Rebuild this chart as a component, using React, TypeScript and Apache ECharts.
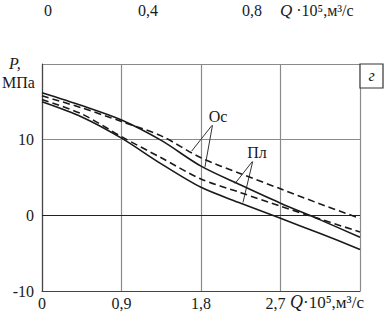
import React, { useEffect, useRef } from "react";
import * as echarts from "echarts";

const Q = [0, 0.45, 0.9, 1.35, 1.8, 2.25, 2.7, 3.15, 3.6];
const osSolid = [16.2, 14.5, 12.6, 9.9, 6.5, 4.0, 1.6, -0.6, -2.9];
const osDashed = [15.8, 14.2, 12.4, 10.5, 7.6, 5.5, 3.5, 1.5, -0.4];
const plDashed = [15.3, 13.4, 10.4, 7.6, 4.8, 3.0, 1.2, -0.5, -2.2];
const plSolid = [15.0, 13.0, 10.2, 6.8, 3.7, 1.6, -0.4, -2.4, -4.5];

const xTicks = [0, 0.9, 1.8, 2.7, 3.6];
const yTicks = [-10, 0, 10, 20];
const topRowLabels = ["0", "0,4", "0,8"];

// pointer lines in data coordinates [from, to]
const osPointers = [
  [[1.925, 11.9], [1.695, 8.5]],
  [[1.93, 11.9], [1.845, 6.4]],
];
const plPointers = [
  [[2.38, 7.1], [2.185, 4.2]],
  [[2.385, 7.1], [2.275, 1.7]],
];

const FONT = "Times New Roman";
const FS = 16;
const INK = "#1a1a1a";

function fmt(v: number) {
  const r = Math.round(v * 10) / 10;
  return r === 0 ? "0" : String(r).replace(".", ",");
}

export default function App() {
  const ref = useRef<HTMLDivElement>(null);
  useEffect(() => {
    if (!ref.current) return;
    const chart = echarts.init(ref.current, null, { renderer: "svg" });
    const mk = (ys: number[]) => Q.map((q, i) => [q, ys[i]]);
    const lineSeries = (name: string, ys: number[], dashed: boolean) => ({
      name,
      type: "line",
      data: mk(ys),
      smooth: 0.3,
      symbol: "none",
      lineStyle: { color: INK, width: 1.6, type: dashed ? [7, 4] : "solid" },
      z: 5,
    });
    const pointerLines = (ptrs: number[][][]) =>
      ptrs.map((p) => [{ coord: p[0] }, { coord: p[1] }]);
    const txt = (text: string, x: number, y: number, extra: any = {}) => ({
      type: "text",
      x,
      y,
      z: 11,
      style: {
        text,
        fontFamily: FONT,
        fontSize: FS,
        fill: INK,
        textVerticalAlign: "middle",
        verticalAlign: "middle",
        ...extra,
      },
    });

    chart.setOption({
      animation: false,
      backgroundColor: "#fff",
      textStyle: { fontFamily: FONT },
      grid: { left: 42, right: 24, top: 64, bottom: 22 },
      xAxis: {
        type: "value",
        min: xTicks[0],
        max: xTicks[xTicks.length - 1],
        interval: 0.9,
        axisLine: { show: true, onZero: false, lineStyle: { color: "#444", width: 1.2 } },
        axisTick: { show: false },
        splitLine: { show: true, lineStyle: { color: "#8a8a8a", width: 1.2 } },
        axisLabel: {
          fontFamily: FONT,
          fontSize: FS,
          color: INK,
          margin: 4,
          formatter: (v: number) => {
            if (Math.abs(v - 3.6) < 1e-6) return "";
            if (Math.abs(v - 2.7) < 1e-6) return "{s|" + fmt(v) + "}";
            return fmt(v);
          },
          rich: {
            s: { fontFamily: FONT, fontSize: FS, color: INK, padding: [0, 10, 0, 0] },
          },
        },
      },
      yAxis: {
        type: "value",
        min: yTicks[0],
        max: yTicks[yTicks.length - 1],
        interval: 10,
        axisLine: { show: true, lineStyle: { color: "#444", width: 1.2 } },
        axisTick: { show: false },
        splitLine: { show: true, lineStyle: { color: "#8a8a8a", width: 1.2 } },
        axisLabel: {
          fontFamily: FONT,
          fontSize: FS,
          color: INK,
          margin: 8,
          formatter: (v: number) => (v === 20 ? "" : String(v)),
        },
      },
      series: [
        {
          ...lineSeries("Ос сплошная", osSolid, false),
          markLine: {
            silent: true,
            symbol: "none",
            label: { show: false },
            lineStyle: { color: "#222", width: 1.2, type: "solid" },
            data: [{ yAxis: 0 }],
          },
        },
        {
          ...lineSeries("Ос штрих", osDashed, true),
          markLine: {
            silent: true,
            symbol: "none",
            label: { show: false },
            lineStyle: { color: "#333", width: 1, type: "solid" },
            data: pointerLines(osPointers),
          },
        },
        {
          ...lineSeries("Пл штрих", plDashed, true),
          markLine: {
            silent: true,
            symbol: "none",
            label: { show: false },
            lineStyle: { color: "#333", width: 1, type: "solid" },
            data: pointerLines(plPointers),
          },
        },
        lineSeries("Пл сплошная", plSolid, false),
      ],
      graphic: [
        ...topRowLabels.map((t, i) =>
          txt(t, [48, 148, 252][i], 10, { textAlign: "center", align: "center" })
        ),
        txt("{q|Q} ·10⁵,м³/с", 280, 10, {
          rich: { q: { fontStyle: "italic", fontFamily: FONT, fontSize: FS + 1 } },
        }),
        txt("{q|Q}·10⁵,м³/с", 290, 302, {
          fontSize: FS + 1,
          rich: { q: { fontStyle: "italic", fontFamily: FONT, fontSize: FS + 2 } },
        }),
        txt("P,", 9, 63, { fontStyle: "italic" }),
        txt("МПа", 2, 82),
        {
          type: "rect",
          shape: { x: 360, y: 64, width: 23, height: 24 },
          style: { fill: "#fff", stroke: "#333", lineWidth: 1.2 },
          z: 10,
        },
        txt("г", 371.5, 75, { fontStyle: "italic", textAlign: "center", align: "center" }),
        txt("Ос", 218, 116, { textAlign: "center", align: "center" }),
        txt("Пл", 257, 152, { textAlign: "center", align: "center" }),
      ],
    });
    return () => chart.dispose();
  }, []);
  return (
    <div
      ref={ref}
      style={{ position: "absolute", left: 0, top: 0, width: 384, height: 313 }}
    />
  );
}
